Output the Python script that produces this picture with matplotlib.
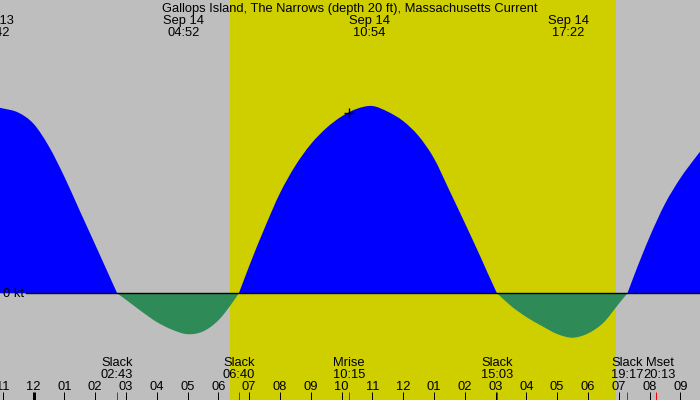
import matplotlib
matplotlib.use("Agg")
import matplotlib.pyplot as plt
import matplotlib.transforms as mtransforms
from matplotlib.path import Path
from matplotlib.patches import PathPatch
import numpy as np

# ---- data (hours since midnight Sep 14, knots) ----
times = [-1.1, -1.0, -0.5, 0.0, 0.5, 1.0, 1.5, 2.0, 2.5, 2.717, 3.0, 3.5, 4.0, 4.5,
         5.0, 5.5, 6.0, 6.5, 6.667, 7.0, 7.5, 8.0, 8.5, 9.0, 9.5, 10.0, 10.5, 11.0,
         11.5, 12.0, 12.5, 13.0, 13.5, 14.0, 14.5, 15.0, 15.05, 15.5, 16.0, 16.5,
         17.0, 17.5, 18.0, 18.5, 19.0, 19.283, 19.5, 20.0, 20.5, 21.0, 21.5, 21.7]
speeds = [1.856, 1.849, 1.808, 1.696, 1.469, 1.167, 0.827, 0.489, 0.148, 0.0,
          -0.064, -0.18, -0.287, -0.364, -0.409, -0.382, -0.271, -0.075, 0.0,
          0.27, 0.65, 1.0, 1.275, 1.49, 1.65, 1.768, 1.845, 1.873, 1.816,
          1.723, 1.574, 1.351, 1.031, 0.706, 0.373, 0.032, 0.0, -0.126, -0.237,
          -0.326, -0.407, -0.444, -0.402, -0.296, -0.106, 0.0, 0.178, 0.56, 0.893,
          1.15, 1.36, 1.44]

sunrise = 6.38
sunset = 18.90

peak_times = [-1.3, 4.867, 10.9, 17.367]
peak_dates = ["Sep 13", "Sep 14", "Sep 14", "Sep 14"]
peak_labels = ["22:42", "04:52", "10:54", "17:22"]

event_times = [2.717, 6.667, 10.25, 15.05, 19.283, 20.217]
event_names = ["Slack", "Slack", "Mrise", "Slack", "Slack", "Mset"]
event_labels = ["02:43", "06:40", "10:15", "15:03", "19:17", "20:13"]

hour_ticks = list(range(-1, 22))
hour_labels = ["11", "12", "01", "02", "03", "04", "05", "06", "07", "08", "09", "10",
               "11", "12", "01", "02", "03", "04", "05", "06", "07", "08", "09"]

title = "Gallops Island, The Narrows (depth 20 ft), Massachusetts Current"

# ---- figure ----
plt.rcParams['font.family'] = ['Liberation Sans', 'DejaVu Sans']
FS = 9.3
W, H = 700, 400
fig = plt.figure(figsize=(7, 4), dpi=100)
ax = fig.add_axes([0, 0, 1, 1])
px_per_hour = 30.8
x0 = -33.5 / px_per_hour
ax.set_xlim(x0, x0 + W / px_per_hour)
ax.set_ylim(-1.067, 2.933)
ax.axis('off')

ax.add_patch(plt.Rectangle((0, 0), 1, 1, transform=ax.transAxes,
                           color='#bebebe', zorder=0))
ax.axvspan(sunrise, sunset, color='#cfcf00', zorder=0.5, lw=0)

t = np.array(times)
v = np.array(speeds)


def lobe_path(i0, i1):
    tt = t[i0:i1 + 1]
    vv = v[i0:i1 + 1]
    mm = np.gradient(vv, tt)  # one-sided at the slack ends (kink kept)
    verts = [(tt[0], 0.0), (tt[0], vv[0])]
    codes = [Path.MOVETO, Path.LINETO]
    for i in range(len(tt) - 1):
        dt = tt[i + 1] - tt[i]
        verts += [(tt[i] + dt / 3, vv[i] + mm[i] * dt / 3),
                  (tt[i + 1] - dt / 3, vv[i + 1] - mm[i + 1] * dt / 3),
                  (tt[i + 1], vv[i + 1])]
        codes += [Path.CURVE4] * 3
    verts += [(tt[-1], 0.0), (tt[0], 0.0)]
    codes += [Path.LINETO, Path.CLOSEPOLY]
    return Path(verts, codes)


zero_idx = [0] + [i for i in range(1, len(v) - 1) if v[i] == 0] + [len(v) - 1]
for a, b in zip(zero_idx[:-1], zero_idx[1:]):
    color = '#0000ff' if v[a:b + 1].sum() > 0 else '#2e8b57'
    ax.add_patch(PathPatch(lobe_path(a, b), facecolor=color, edgecolor='none',
                           lw=0, zorder=1))

ax.axhline(0, xmin=26 / W, xmax=1, color='black', lw=1.0, zorder=2)
ax.text(3 / W, -0.04, "0 kt", transform=mtransforms.blended_transform_factory(
    ax.transAxes, ax.transData), ha='left', va='baseline', fontsize=FS)

# moonrise marker on curve
ax.plot([event_times[2]], [np.interp(event_times[2], t, v)], marker='+',
        color='black', ms=6.5, mew=1.0, zorder=3)

xt = ax.get_xaxis_transform()


def yf(px):
    return 1 - px / H


# title & top labels
ax.text(0.5, yf(12), title, transform=ax.transAxes, ha='center',
        va='baseline', fontsize=FS)
for pt, d, lab in zip(peak_times, peak_dates, peak_labels):
    ax.text(pt, yf(24.3), d, transform=xt, ha='center', va='baseline', fontsize=FS)
    ax.text(pt, yf(36.3), lab, transform=xt, ha='center', va='baseline', fontsize=FS)

# hour ticks
for h, lab in zip(hour_ticks, hour_labels):
    lw = 3 if h == 0 else 1
    ax.plot([h, h], [0, 8 / H], transform=xt, color='black', lw=lw * 0.72,
            solid_capstyle='butt', zorder=4)
    ax.text(h, yf(389.7), lab, transform=xt, ha='center', va='baseline', fontsize=FS)

# event ticks and labels
for et, name, lab in zip(event_times, event_names, event_labels):
    ax.plot([et, et], [0, 8 / H], transform=xt, color='#ff0000', lw=0.72,
            solid_capstyle='butt', zorder=4)
    off = 3.3 / px_per_hour if name == "Mset" else 0
    ax.text(et + off, yf(366), name, transform=xt, ha='center', va='baseline',
            fontsize=FS)
    ax.text(et + off, yf(378), lab, transform=xt, ha='center', va='baseline',
            fontsize=FS)

fig.savefig("out.png", dpi=100)
